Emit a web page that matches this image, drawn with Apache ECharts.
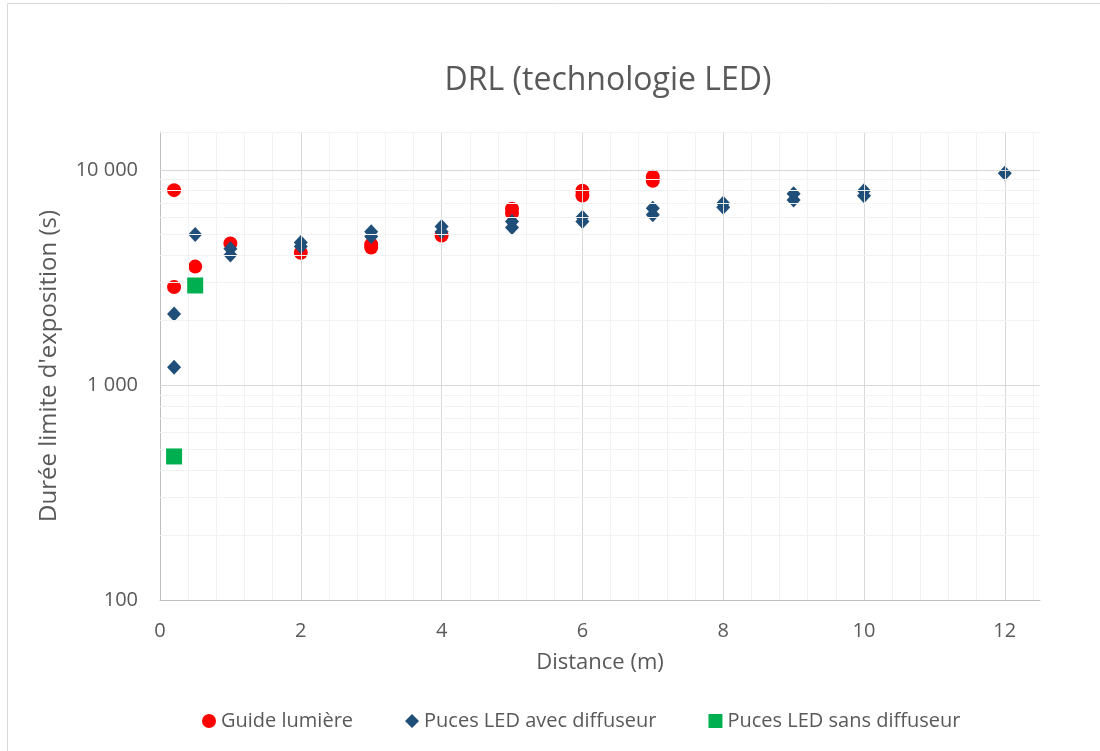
<!DOCTYPE html>
<html>
<head>
<meta charset="utf-8">
<script src="https://cdn.jsdelivr.net/npm/echarts@6/dist/echarts.min.js"></script>
<style>
  html, body { margin: 0; padding: 0; background: #fff; }
  #chart { width: 1100px; height: 751px; }
</style>
</head>
<body>
<div id="chart"></div>
<script>
// Guide lumière
var guideX = [0.2, 0.2, 0.5, 1, 2, 3, 3, 4, 5, 5, 6, 6, 7, 7];
var guideY = [8050, 2850, 3550, 4550, 4120, 4500, 4350, 4950, 6600, 6300, 8000, 7600, 9300, 8900];
// Puces LED avec diffuseur
var avecX = [0.2, 0.2, 0.5, 1, 1, 2, 2, 3, 3, 4, 4, 5, 5, 6, 6, 7, 7, 8, 8, 9, 9, 10, 10, 12];
var avecY = [2140, 1210, 5000, 4300, 4020, 4590, 4400, 5150, 4900, 5450, 5150, 5750, 5400, 6020, 5750, 6630, 6180, 7000, 6700, 7740, 7250, 8000, 7570, 9650];
// Puces LED sans diffuseur
var sansX = [0.2, 0.5];
var sansY = [465, 2900];

var xTicks = [0, 2, 4, 6, 8, 10, 12];
var yTicks = [100, 1000, 10000];
var seriesNames = ['Guide lumière', 'Puces LED avec diffuseur', 'Puces LED sans diffuseur'];

var font = 'Open Sans';
var textColor = '#595959';

function pairs(xs, ys) {
    var out = [];
    for (var i = 0; i < xs.length; i++) out.push([xs[i], ys[i]]);
    return out;
}

// quadrillage (lignes principales + secondaires)
var gridLines = [];
var k;
for (k = 1; k <= 31; k++) {
    var xv = Math.round(k * 0.4 * 10) / 10;
    var major = xTicks.indexOf(xv) >= 0;
    gridLines.push({ xAxis: xv, lineStyle: { color: major ? '#d9d9d9' : '#f2f2f2', width: 1, type: 'solid' } });
}
for (var d = 100; d <= 10000; d *= 10) {
    for (var m = 1; m <= 9; m++) {
        var yv = d * m;
        if (yv === 100 || yv > 10000) continue;
        gridLines.push({ yAxis: yv, lineStyle: { color: m === 1 ? '#d9d9d9' : '#f2f2f2', width: 1, type: 'solid' } });
    }
}
gridLines.push({ yAxis: 15000, lineStyle: { color: '#f2f2f2', width: 1, type: 'solid' } });

var myChart = echarts.init(document.getElementById('chart'), null, { renderer: 'canvas' });

myChart.setOption({
    animation: false,
    textStyle: { fontFamily: font },
    title: {
        text: 'DRL (technologie LED)',
        left: 603,
        textAlign: 'center',
        top: 60,
        textStyle: { color: textColor, fontSize: 32, fontWeight: 'normal', fontFamily: font }
    },
    graphic: [{
        type: 'rect',
        shape: { x: 7.5, y: 3.5, width: 1200, height: 1000 },
        style: { fill: 'none', stroke: '#d9d9d9', lineWidth: 1 },
        silent: true
    }],
    legend: {
        data: seriesNames,
        left: 197,
        top: 706,
        itemGap: 52,
        itemWidth: 14,
        itemHeight: 14,
        textStyle: { color: textColor, fontSize: 20, fontFamily: font }
    },
    grid: { left: 160, top: 132, width: 880, height: 468 },
    xAxis: {
        type: 'value',
        min: 0,
        max: 12.5,
        interval: 2,
        name: 'Distance (m)',
        nameLocation: 'middle',
        nameGap: 52,
        nameTextStyle: { color: textColor, fontSize: 22, fontFamily: font },
        axisLine: { show: true, lineStyle: { color: '#bfbfbf', width: 1 } },
        axisTick: { show: false },
        splitLine: { show: false },
        axisLabel: {
            color: textColor, fontSize: 20, margin: 21, fontFamily: font,
            showMaxLabel: false,
            formatter: function (v) { return xTicks.indexOf(v) >= 0 ? String(v) : ''; }
        }
    },
    yAxis: {
        type: 'log',
        logBase: 10,
        min: 100,
        max: 15000,
        name: "Durée limite d'exposition (s)",
        nameLocation: 'middle',
        nameGap: 99,
        nameTextStyle: { color: textColor, fontSize: 24, fontFamily: font },
        axisLine: { show: true, lineStyle: { color: '#bfbfbf', width: 1 } },
        axisTick: { show: false },
        splitLine: { show: false },
        axisLabel: {
            color: textColor, fontSize: 20, margin: 22, fontFamily: font,
            showMaxLabel: false,
            formatter: function (v) {
                var r = Math.round(v);
                if (yTicks.indexOf(r) < 0) return '';
                return String(r).replace(/\B(?=(\d{3})+(?!\d))/g, ' ');
            }
        }
    },
    series: [
        {
            name: 'grille',
            type: 'scatter',
            data: [],
            z: 0,
            silent: true,
            markLine: {
                silent: true,
                animation: false,
                symbol: ['none', 'none'],
                label: { show: false },
                emphasis: { disabled: true },
                data: gridLines
            }
        },
        {
            name: seriesNames[0],
            type: 'scatter',
            symbol: 'circle',
            symbolSize: 14,
            itemStyle: { color: '#ff0000', opacity: 1 },
            data: pairs(guideX, guideY),
            z: 3
        },
        {
            name: seriesNames[1],
            type: 'scatter',
            symbol: 'diamond',
            symbolSize: [14, 15],
            itemStyle: { color: '#1f4e79', opacity: 1 },
            data: pairs(avecX, avecY),
            z: 4
        },
        {
            name: seriesNames[2],
            type: 'scatter',
            symbol: 'rect',
            symbolSize: 16,
            itemStyle: { color: '#00b050', opacity: 1 },
            data: pairs(sansX, sansY),
            z: 5
        }
    ]
});
</script>
</body>
</html>
